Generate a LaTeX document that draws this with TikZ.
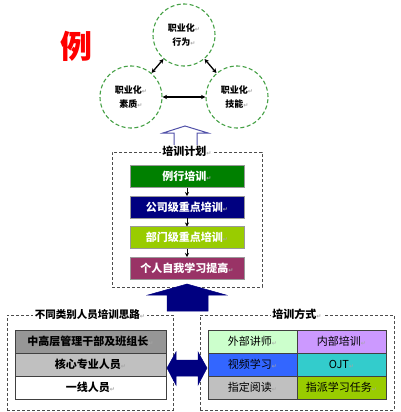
\documentclass[tikz,border=0pt]{standalone}
\usepackage{fontspec}
\setmainfont{Noto Sans CJK SC}
\newfontfamily\markfont{DejaVu Sans}
\usepackage{tikz}
\usetikzlibrary{arrows.meta,positioning}
\definecolor{ringGreen}{HTML}{44A044}
\definecolor{hollowBlue}{HTML}{5050A8}
\definecolor{arrowNavy}{HTML}{000080}
\definecolor{planGreen}{HTML}{008000}
\definecolor{planNavy}{HTML}{000080}
\definecolor{planLime}{HTML}{99CC00}
\definecolor{planPlum}{HTML}{993366}
\definecolor{rowDark}{HTML}{969696}
\definecolor{rowLight}{HTML}{C0C0C0}
\definecolor{cellMint}{HTML}{CCFFCC}
\definecolor{cellLilac}{HTML}{CC99FF}
\definecolor{cellBlue}{HTML}{3366FF}
\definecolor{cellTeal}{HTML}{33CCCC}
\definecolor{cellGrey}{HTML}{C0C0C0}
\definecolor{cellLime}{HTML}{99CC00}
\newcommand\pmark{{\markfont\fontsize{6}{6}\selectfont\textcolor{gray!70}{↵}}}
\tikzset{
  skill ring/.style={circle,draw=ringGreen,dash pattern=on 4pt off 2.5pt,line width=1.1pt,
    minimum size=62pt,inner sep=0pt,align=center,font=\bfseries\fontsize{9}{14}\selectfont},
  ring link/.style={{Stealth[length=4.5pt,width=4.5pt]}-{Stealth[length=4.5pt,width=4.5pt]},line width=1.3pt},
  dash frame/.style={draw=black!70,dash pattern=on 3pt off 2pt,line width=0.9pt,inner sep=0pt},
  frame title/.style={fill=white,inner sep=1.5pt,font=\bfseries\fontsize{10.5}{12}\selectfont},
  plan step/.style={draw=gray!80,line width=0.8pt,minimum width=114pt,minimum height=22pt,
    inner sep=0pt,outer sep=0pt,text=white,font=\bfseries\fontsize{11}{13}\selectfont},
  step arrow/.style={-{Stealth[length=4pt,width=4pt]},line width=0.6pt},
  group row/.style={draw=black!75,line width=1pt,minimum width=151pt,minimum height=23pt,
    inner sep=0pt,outer sep=0pt,font=\bfseries\fontsize{11}{13}\selectfont},
  mode cell/.style={draw=black!75,line width=1pt,minimum width=89pt,minimum height=23pt,
    inner sep=0pt,outer sep=0pt,font=\fontsize{11}{13}\selectfont},
  block arrow/.style={fill=arrowNavy,draw=arrowNavy,line width=0.5pt,line join=miter}
}
\begin{document}
\begin{tikzpicture}[x=1pt,y=-1pt,node distance=8.5pt]
\useasboundingbox (0,0) rectangle (400,412);
% rings
\node[text=red,font=\bfseries\fontsize{32}{32}\selectfont] (sample) at (76,46) {例};
\node[skill ring] (behave) at (184,35) {职业化\pmark\\行为\pmark};
\node[skill ring] (quality) at (131,97) {职业化\pmark\\素质\pmark};
\node[skill ring] (skill) at (237,97) {职业化\pmark\\技能\pmark};
\draw[ring link] (behave) -- (quality);
\draw[ring link] (behave) -- (skill);
\draw[ring link] (quality) -- (skill);
% training plan
\node[dash frame,minimum width=150pt,minimum height=135pt] (plan) at (187,219.5) {};
\draw[hollowBlue,fill=white,line width=1pt] (185,126) -- (208,133) -- (197,133) -- (197,152)
  -- (174,152) -- (174,133) -- (163,133) -- cycle;
\node[frame title,font=\bfseries\fontsize{11}{13}\selectfont] (plantitle) at (plan.north) {培训计划\pmark};
\node[plan step,fill=planGreen] (routine) at (187,176.5) {例行培训\pmark};
\node[plan step,fill=planNavy,below=of routine] (corporate) {公司级重点培训\pmark};
\node[plan step,fill=planLime,below=of corporate] (dept) {部门级重点培训\pmark};
\node[plan step,fill=planPlum,below=of dept] (selfstudy) {个人自我学习提高\pmark};
\draw[step arrow] (routine) -- (corporate);
\draw[step arrow] (corporate) -- (dept);
\draw[step arrow] (dept) -- (selfstudy);
% staff groups
\node[dash frame,minimum width=166pt,minimum height=95pt] (groups) at (90,362.5) {};
\node[frame title] (groupstitle) at (groups.north) {不同类别人员培训思路\pmark};
\node[group row,fill=rowDark] (managers) at (90.5,341.5) {中高层管理干部及班组长\pmark};
\node[group row,fill=rowLight,below=0pt of managers] (core) {核心专业人员\pmark};
\node[group row,fill=white,below=0pt of core] (frontline) {一线人员\pmark};
% training modes
\node[dash frame,minimum width=194pt,minimum height=95pt] (modes) at (297,362.5) {};
\node[frame title,font=\bfseries\fontsize{11}{13}\selectfont] (modestitle) at (modes.north) {培训方式\pmark};
\node[mode cell,fill=cellMint] (external) at (252.5,341.5) {外部讲师\pmark};
\node[mode cell,fill=cellLilac,right=0pt of external] (internal) {内部培训\pmark};
\node[mode cell,fill=cellBlue,below=0pt of external] (video) {视频学习\pmark};
\node[mode cell,fill=cellTeal,below=0pt of internal] (ojt) {OJT\pmark};
\node[mode cell,fill=cellGrey,below=0pt of video] (reading) {指定阅读\pmark};
\node[mode cell,fill=cellLime,below=0pt of ojt] (tasks) {指派学习任务\pmark};
% block arrows
\draw[block arrow] (187,284) -- (226,295) -- (208,295) -- (208,311) -- (167,311)
  -- (167,295) -- (148,295) -- cycle;
\draw[block arrow] (167,368) -- (176,352) -- (176,360) -- (198,360) -- (198,352) -- (207,368)
  -- (198,385) -- (198,376) -- (176,376) -- (176,385) -- cycle;
\end{tikzpicture}
\end{document}
